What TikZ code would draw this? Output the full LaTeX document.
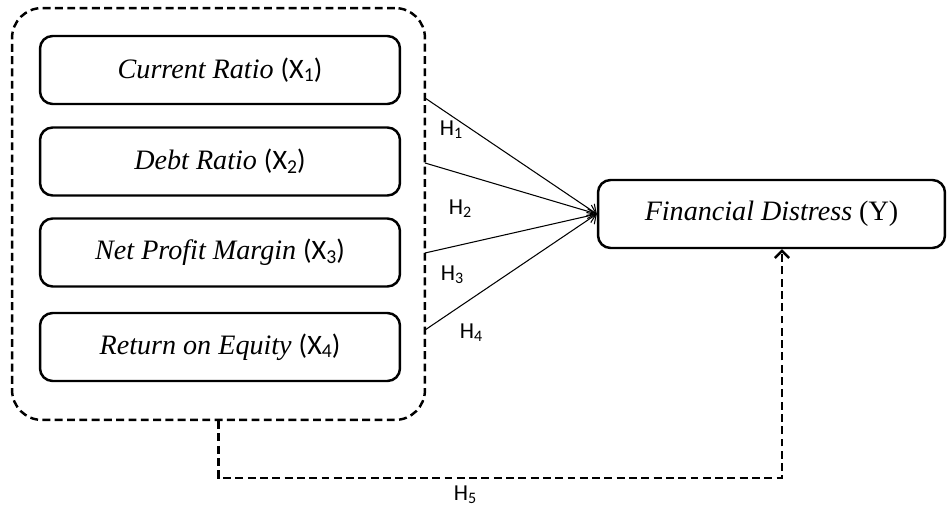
\documentclass[tikz,border=0pt]{standalone}
\usepackage{fontspec}
\usetikzlibrary{arrows.meta}
\setmainfont{Liberation Serif}
\newfontfamily\calib{Carlito}
\newcommand{\lowsub}[1]{\raisebox{-0.25ex}{\scalebox{0.7}{#1}}}
\newcommand{\xvar}[1]{{\calib(X\lowsub{#1})}}
\newcommand{\hyp}[1]{{\calib H\lowsub{#1}}}
\begin{document}
\begin{tikzpicture}[x=0.02cm, y=-0.02cm, line width=1.4pt, >={Straight Barb[length=4pt,width=8pt]},
    var/.style = {draw, rounded corners=0.25cm, minimum width=7.2cm, minimum height=1.36cm, font=\fontsize{16}{18}\selectfont},
    grp/.style = {draw, dashed, dash pattern=on 4.5pt off 2.5pt, rounded corners=0.6cm, minimum width=8.26cm, minimum height=8.24cm},
    lbl/.style = {font=\fontsize{13}{15}\selectfont}]
    % Kotak variabel
    \useasboundingbox (0,0) rectangle (947,506);

    \node[grp] (g) at (218.5,214) {};
    \node[var] (x1) at (220,70) {\textit{Current Ratio} \xvar{1}};
    \node[var] (x2) at (220,161.5) {\textit{Debt Ratio} \xvar{2}};
    \node[var] (x3) at (220,252.5) {\textit{Net Profit Margin} \xvar{3}};
    \node[var] (x4) at (220,347) {\textit{Return on Equity} \xvar{4}};
    \node[var, minimum width=6.94cm] (y) at (771.5,214) {\textit{Financial Distress} (Y)};

    \coordinate (s1) at (425,98);
    \coordinate (s2) at (425,163);
    \coordinate (s3) at (425,253);
    \coordinate (s4) at (425,330);
    \coordinate (h5) at (782,478);

    \draw[->, line width=0.6pt] (s1) to (y.west);
    \draw[->, line width=0.6pt] (s2) to (y.west);
    \draw[->, line width=0.6pt] (s3) to (y.west);
    \draw[->, line width=0.6pt] (s4) to (y.west);
    \draw[->, dashed, dash pattern=on 4.5pt off 2.5pt] (g.south) |- (h5) to (h5 |- y.south);

    \node[lbl] (h1) at (451,130) {\hyp{1}};
    \node[lbl] (h2) at (460,209) {\hyp{2}};
    \node[lbl] (h3) at (452,275) {\hyp{3}};
    \node[lbl] (h4) at (471,333) {\hyp{4}};
    \node[lbl] (h5l) at (465,495) {\hyp{5}};

\end{tikzpicture}
\end{document}
